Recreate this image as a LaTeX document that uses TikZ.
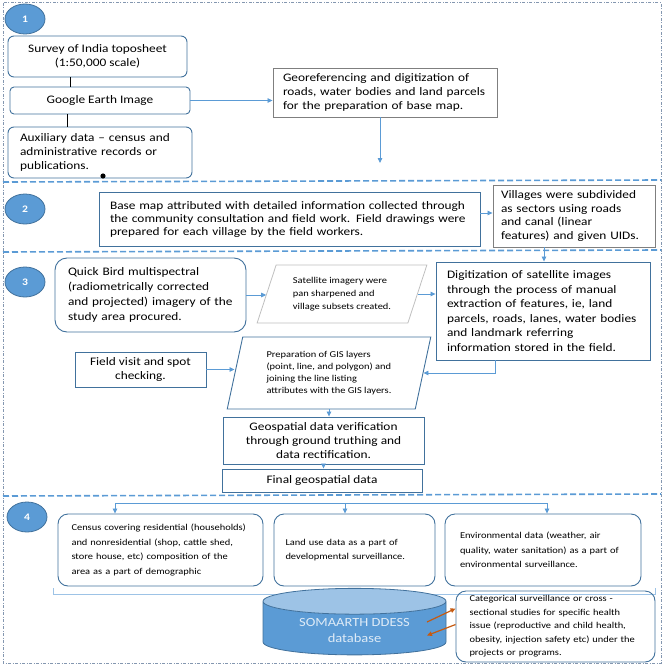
\documentclass[tikz,border=0pt]{standalone}
\usepackage{fontspec}
\setmainfont{Carlito}[FakeStretch=1.16]
\usetikzlibrary{shapes.geometric,arrows.meta}

\definecolor{boxblue}{HTML}{41719C}
\definecolor{lineblue}{HTML}{5B9BD5}
\definecolor{framegray}{HTML}{8497B0}
\definecolor{georefgray}{HTML}{7F7F7F}
\definecolor{satgray}{HTML}{BFBFBF}
\definecolor{dbtop}{HTML}{9DC3E6}
\definecolor{dborange}{HTML}{C55A11}
\definecolor{dbtext}{HTML}{DEEBF7}

\tikzset{
	stepnum/.style={ellipse, draw=boxblue, fill=lineblue, line width=0.8pt, inner sep=0pt, minimum width=40pt, minimum height=30pt, text=white, font=\fontsize{10}{10}\selectfont\bfseries},
	rbox/.style={draw=boxblue, line width=0.9pt, rounded corners=6pt, inner sep=3pt, font=\fontsize{11.5}{14}\selectfont},
	sbox/.style={draw=boxblue, line width=0.9pt, inner sep=3pt, font=\fontsize{11.5}{14}\selectfont},
	gbox/.style={draw=georefgray, line width=0.9pt, inner sep=3pt, font=\fontsize{11.5}{14}\selectfont},
	slant/.style={trapezium, trapezium stretches=true, inner sep=1pt},
	smallbox/.style={draw=boxblue, line width=0.9pt, rounded corners=10pt, inner sep=3pt, font=\fontsize{9}{14.5}\selectfont},
	arr/.style={lineblue, line width=0.8pt, -{Triangle[length=5pt,width=4.5pt]}},
	oarr/.style={dborange, line width=1.2pt, -{Triangle[length=5pt,width=4.5pt]}},
	sep/.style={lineblue, line width=1.6pt, dash pattern=on 6pt off 3pt},
}

\begin{document}
\begin{tikzpicture}[x=1pt,y=-1pt]
	\useasboundingbox (0,0) rectangle (666,666);
	% frame and section lines
	\draw[framegray, line width=1pt, dash pattern=on 3pt off 1.5pt on 1pt off 1.5pt] (3,3) rectangle (661,663);
	\draw[sep] (3,182) -- (661,180);
	\draw[sep] (3,252) -- (661,250);
	\draw[sep] (3,496) -- (661,494);

	% step 1
	\node[stepnum] (c1) at (25,19) {1};
	\node[rbox, minimum width=179pt, minimum height=41pt, align=center] (survey) at (97.5,56.5) {Survey of India toposheet\\(1:50,000 scale)};
	\node[rbox, rounded corners=4pt, minimum width=180pt, minimum height=27pt] (google) at (100,100.5) {Google Earth Image};
	\node[rbox, minimum width=184pt, minimum height=51pt, text width=160pt, align=left] (aux) at (100,152.5) {Auxiliary data -- census and\\administrative records or\\publications.};
	\node[gbox, minimum width=224pt, minimum height=49pt, text width=204pt, align=left] (georef) at (385,92.5) {Georeferencing and digitization of\\roads, water bodies and land parcels\\for the preparation of base map.};
	\draw[line width=1.6pt] ([xshift=63pt]survey.south west) -- ([xshift=61pt]google.north west);
	\draw[line width=1.6pt] ([xshift=58pt]google.south west) -- ([xshift=60pt]aux.north west);
	\fill (103,176) circle (2.6pt);
	\draw[arr] (google.east) -- (google.east -| georef.west);
	\coordinate (down1) at (380,163);
	\draw[arr] (georef.south -| down1) -- (down1);

	% step 2
	\node[stepnum] (c2) at (25,209) {2};
	\node[sbox, minimum width=381pt, minimum height=54pt, text width=359pt, align=left, font=\fontsize{11.5}{13}\selectfont] (base) at (289.5,219) {Base map attributed with detailed information collected through\\the community consultation and field work. Field drawings were\\prepared for each village by the field workers.};
	\node[gbox, minimum width=162pt, minimum height=62pt, text width=146pt, align=left, font=\fontsize{11.5}{13.5}\selectfont] (village) at (574,216) {Villages were subdivided\\as sectors using roads\\and canal (linear\\features) and given UIDs.};
	\draw[arr] ([yshift=6pt]base.east) -- ([yshift=6pt]base.east -| village.west);

	% step 3
	\node[stepnum] (c3) at (25,282) {3};
	\node[rbox, rounded corners=12pt, minimum width=191pt, minimum height=74pt, text width=165pt, align=left, font=\fontsize{11.5}{15}\selectfont] (quick) at (150.5,295) {Quick Bird multispectral\\(radiometrically corrected\\and projected) imagery of the\\study area procured.};
	\node[slant, draw=satgray, line width=0.8pt, trapezium left angle=68, trapezium right angle=112, minimum width=170pt, minimum height=58pt, align=left, font=\fontsize{9}{13}\selectfont] (sat) at (342,294) {Satellite imagery were\\pan sharpened and\\village subsets created.};
	\node[sbox, minimum width=214pt, minimum height=98pt, text width=192pt, align=left, font=\fontsize{11.5}{14.5}\selectfont] (digit) at (543,311) {Digitization of satellite images\\through the process of manual\\extraction of features, ie, land\\parcels, roads, lanes, water bodies\\and landmark referring\\information stored in the field.};
	\draw[arr] (quick.east) -- (quick.east -| sat.west);
	\draw[arr] (sat.east) -- (sat.east -| digit.west);
	\draw[arr] ([xshift=-30pt]village.south) -- ([xshift=-30pt]village.south |- digit.north);
	\node[slant, draw=boxblue, line width=0.9pt, trapezium left angle=76, trapezium right angle=104, minimum width=204pt, minimum height=72pt, align=left, font=\fontsize{9}{12}\selectfont] (prep) at (329,373) {Preparation of GIS layers\\(point, line, and polygon) and\\joining the line listing\\attributes with the GIS layers.};
	\node[sbox, minimum width=131pt, minimum height=35pt, align=center] (field) at (140.5,369.5) {Field visit and spot\\checking.};
	\draw[arr] ([xshift=-48pt]digit.south) |- (prep.east);
	\draw[arr] (field.east) -- (field.east -| prep.west);
	\node[sbox, minimum width=201pt, minimum height=47pt, align=center] (geo) at (323.5,440.5) {Geospatial data verification\\through ground truthing and\\data rectification.};
	\node[sbox, minimum width=200pt, minimum height=23pt] (final) at (322,480.5) {Final geospatial data};
	\draw[arr] (prep.south) -- (prep.south |- geo.north);
	\draw[arr] (geo.south) -- (geo.south |- final.north);

	% step 4
	\node[stepnum] (c4) at (27,517) {4};
	\node[smallbox, minimum width=205pt, minimum height=72pt, text width=178pt, align=left] (census) at (160.5,550) {Census covering residential (households)\\and nonresidential (shop, cattle shed,\\store house, etc) composition of the\\area as a part of demographic};
	\node[smallbox, minimum width=161pt, minimum height=72pt, text width=138pt, align=left] (landuse) at (354.5,550) {Land use data as a part of\\developmental surveillance.};
	\node[smallbox, minimum width=196pt, minimum height=72pt, text width=166pt, align=left] (env) at (543,550) {Environmental data (weather, air\\quality, water sanitation) as a part of\\environmental surveillance.};
	\coordinate (t4l) at (115,503);
	\coordinate (t4r) at (547,503);
	\draw[lineblue, line width=0.8pt] (t4l) -- (t4r);
	\draw[arr] (t4l) -- (t4l |- census.north);
	\draw[arr] (t4l -| 345,0) -- (landuse.north -| 345,0);
	\draw[arr] (t4r) -- (t4r |- env.north);
	% bracket under the three boxes
	\draw[dbtop, line width=0.9pt] (53,588) -- (53,594) -- (655,594) -- (655,588);
	\draw[dbtop, line width=0.9pt] (354,594) -- (354,600);

	\node[cylinder, shape border rotate=90, draw=boxblue, line width=0.8pt, cylinder uses custom fill, cylinder body fill=lineblue, cylinder end fill=dbtop, shape aspect=0.22, minimum width=183pt, minimum height=54pt, align=center, text=dbtext, font=\fontsize{12.5}{16}\selectfont] (db) at (354.5,630) {SOMAARTH DDESS\\database};
	\node[smallbox, font=\fontsize{9}{13.5}\selectfont, minimum width=199pt, minimum height=71pt, text width=172pt, align=left] (cat) at (555.5,626.5) {Categorical surveillance or cross -\\sectional studies for specific health\\issue (reproductive and child health,\\obesity, injection safety etc) under the\\projects or programs.};
	\draw[oarr] ([xshift=72.5pt,yshift=8pt]db.center) -- ([yshift=18pt]cat.west);
	\draw[oarr] ([yshift=2pt]cat.west) -- ([xshift=72.5pt,yshift=-5.5pt]db.center);
\end{tikzpicture}
\end{document}
